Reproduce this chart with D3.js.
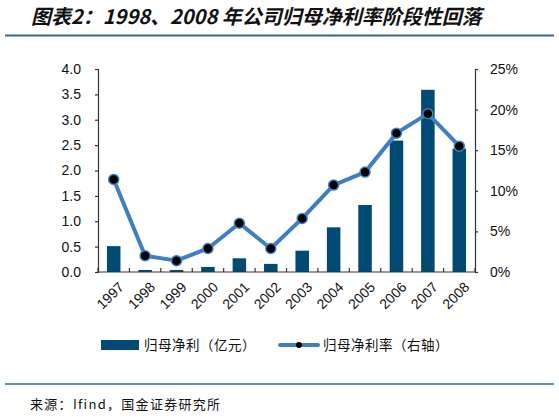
<!DOCTYPE html>
<html>
<head>
<meta charset="utf-8">
<script src="https://cdn.jsdelivr.net/npm/d3@7"></script>
<style>
  body { margin: 0; background: #fff; }
  svg { display: block; }
  .axis text { font-family: "Liberation Sans", Arial, sans-serif; font-size: 14px; fill: #111; }
  .axis path, .axis line { stroke: #333; stroke-width: 1.2; }
  .cjk { font-family: "Noto Sans CJK SC", sans-serif; }
</style>
</head>
<body>
<svg id="chart" width="559" height="417"></svg>
<script>
// values
var years = ["1997", "1998", "1999", "2000", "2001", "2002", "2003", "2004", "2005", "2006", "2007", "2008"];
var netProfit = [0.51, 0.04, 0.04, 0.10, 0.27, 0.16, 0.42, 0.88, 1.32, 2.59, 3.59, 2.43];
var netMargin = [11.4, 2.0, 1.4, 2.9, 6.0, 2.9, 6.6, 10.7, 12.3, 17.1, 19.5, 15.5];
var leftTicks = [0, 0.5, 1, 1.5, 2, 2.5, 3, 3.5, 4];
var rightTicks = [0, 5, 10, 15, 20, 25];

var svg = d3.select("#chart"),
    margin = {top: 69, right: 84, bottom: 145, left: 98},
    width = +svg.attr("width") - margin.left - margin.right,
    height = +svg.attr("height") - margin.top - margin.bottom;

var barColor = "#004a73",
    lineColor = "#3f7fc1";

// title + rules
svg.append("text")
    .attr("class", "cjk")
    .attr("x", 31)
    .attr("y", 24)
    .attr("font-size", 20)
    .attr("font-style", "italic")
    .attr("font-weight", "bold")
    .attr("fill", "#111")
    .text("图表2：1998、2008 年公司归母净利率阶段性回落");

svg.append("line")
    .attr("x1", 5).attr("x2", 554)
    .attr("y1", 35.5).attr("y2", 35.5)
    .attr("stroke", "#2f6b8e").attr("stroke-width", 2.2);

svg.append("line")
    .attr("x1", 5).attr("x2", 554)
    .attr("y1", 384).attr("y2", 384)
    .attr("stroke", "#2f6b8e").attr("stroke-width", 1.3);

svg.append("text")
    .attr("class", "cjk")
    .attr("x", 30)
    .attr("y", 409)
    .attr("font-size", 13)
    .attr("letter-spacing", 1.3)
    .attr("fill", "#111")
    .text("来源：Ifind，国金证券研究所");

var g = svg.append("g")
    .attr("transform", "translate(" + margin.left + "," + margin.top + ")");

var x = d3.scaleBand().domain(years).range([0, width]).paddingInner(0.57).paddingOuter(0.285),
    y = d3.scaleLinear().domain([0, 4]).range([height, 0]),
    y2 = d3.scaleLinear().domain([0, 25]).range([height, 0]);

// left axis
g.append("g")
    .attr("class", "axis axisy")
    .call(d3.axisLeft(y).tickValues(leftTicks).tickFormat(d3.format(".1f")).tickSize(3).tickPadding(14));

// right axis
g.append("g")
    .attr("class", "axis axisy2")
    .attr("transform", "translate(" + width + ",0)")
    .call(d3.axisRight(y2).tickValues(rightTicks).tickFormat(function(d) { return d + "%"; }).tickSize(3).tickPadding(12));

// bars
g.selectAll("rect.bar")
    .data(years)
  .enter().append("rect")
    .attr("class", "bar")
    .attr("x", function(d) { return x(d); })
    .attr("y", function(d, i) { return y(netProfit[i]); })
    .attr("width", x.bandwidth())
    .attr("height", function(d, i) { return height - y(netProfit[i]); })
    .attr("fill", barColor);

// bottom axis, ticks at band boundaries pointing up
var step = x.step();
var xa = g.append("g")
    .attr("class", "axis axisx")
    .attr("transform", "translate(0," + height + ")");
xa.append("line")
    .attr("x1", 0).attr("x2", width)
    .attr("stroke", "#333").attr("stroke-width", 1.2);
xa.selectAll("line.tick")
    .data(d3.range(years.length + 1))
  .enter().append("line")
    .attr("class", "tick")
    .attr("x1", function(d) { return d * step; })
    .attr("x2", function(d) { return d * step; })
    .attr("y1", 0).attr("y2", -4)
    .attr("stroke", "#333");
xa.selectAll("text")
    .data(years)
  .enter().append("text")
    .attr("transform", function(d) {
      return "translate(" + (x(d) + x.bandwidth() / 2 + 4) + ",9) rotate(-45)";
    })
    .attr("text-anchor", "end")
    .attr("dy", "0.7em")
    .text(function(d) { return d; });

// line
var line = d3.line()
    .x(function(d, i) { return x(years[i]) + x.bandwidth() / 2; })
    .y(function(d) { return y2(d); });

g.append("path")
    .datum(netMargin)
    .attr("fill", "none")
    .attr("stroke", lineColor)
    .attr("stroke-width", 4)
    .attr("stroke-linejoin", "round")
    .attr("d", line);

g.selectAll("circle.dot")
    .data(netMargin)
  .enter().append("circle")
    .attr("class", "dot")
    .attr("cx", function(d, i) { return x(years[i]) + x.bandwidth() / 2; })
    .attr("cy", function(d) { return y2(d); })
    .attr("r", 5)
    .attr("fill", "#000")
    .attr("stroke", lineColor)
    .attr("stroke-width", 1.5);

// legend
var lg = svg.append("g").attr("transform", "translate(0,345)");
lg.append("rect")
    .attr("x", 101).attr("y", -5)
    .attr("width", 38).attr("height", 10)
    .attr("fill", barColor);
lg.append("text")
    .attr("class", "cjk")
    .attr("x", 144).attr("y", 5)
    .attr("font-size", 13.5).attr("letter-spacing", 0.5).attr("fill", "#111")
    .text("归母净利（亿元）");

lg.append("line")
    .attr("x1", 280).attr("x2", 318)
    .attr("stroke", lineColor).attr("stroke-width", 4).attr("stroke-linecap", "round");
lg.append("circle")
    .attr("cx", 299).attr("cy", 0).attr("r", 3)
    .attr("fill", "#000");
lg.append("text")
    .attr("class", "cjk")
    .attr("x", 323).attr("y", 5)
    .attr("font-size", 13.5).attr("letter-spacing", 0.5).attr("fill", "#111")
    .text("归母净利率（右轴）");
</script>
</body>
</html>
